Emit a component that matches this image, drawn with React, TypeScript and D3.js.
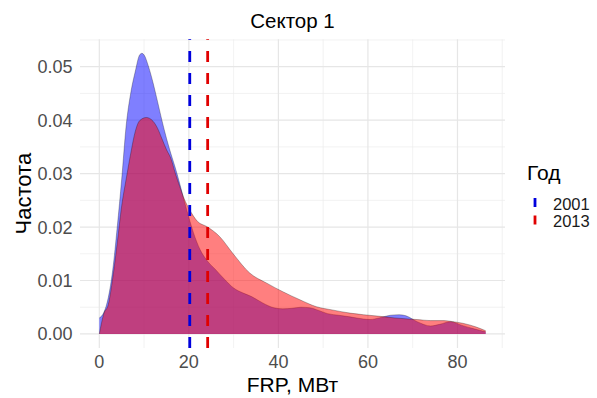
import * as d3 from 'd3'
import React from 'react'

// Kernel density estimates (FRP in MW -> density)
const frp2001 = [0, 1, 2, 3, 4, 5, 6, 7, 8, 9, 9.5, 10, 11, 12, 13, 14, 15, 16, 17, 18, 19, 20, 21, 22.5, 24, 26, 28, 30, 32, 34, 36.5, 39, 41, 43, 45, 47, 49, 51, 53.5, 56, 59, 60.5, 62.5, 65, 67, 68.5, 71, 74, 76, 78.5, 81, 83.5, 86.3]
const dens2001 = [0.003, 0.004, 0.0068, 0.012, 0.02, 0.029, 0.039, 0.045, 0.049, 0.0522, 0.0525, 0.0522, 0.05, 0.047, 0.0435, 0.0399, 0.0366, 0.0337, 0.031, 0.028, 0.0248, 0.0218, 0.019, 0.0158, 0.0138, 0.012, 0.0102, 0.0086, 0.0077, 0.007, 0.0058, 0.0049, 0.0047, 0.0048, 0.005, 0.0049, 0.0044, 0.0038, 0.0035, 0.0032, 0.0028, 0.0027, 0.003, 0.0035, 0.0036, 0.0034, 0.0023, 0.0015, 0.0018, 0.0023, 0.0016, 0.001, 0.0004]

const frp2013 = [0, 1, 2, 3, 4, 5, 6, 7, 8, 9, 10.5, 12, 13, 14, 15, 16, 17, 18, 19, 20, 22, 24, 26.9, 29.8, 33.6, 37.4, 41, 44.8, 48.5, 52, 56, 59, 62.7, 66, 69, 71, 74, 77, 79, 81.2, 84.2, 86.3]
const dens2013 = [0, 0.0038, 0.0055, 0.0105, 0.017, 0.024, 0.029, 0.0337, 0.0378, 0.0399, 0.0405, 0.0398, 0.0385, 0.0365, 0.0345, 0.0328, 0.03, 0.0275, 0.0252, 0.0235, 0.021, 0.0201, 0.0182, 0.0151, 0.0114, 0.0095, 0.0079, 0.0064, 0.0051, 0.0045, 0.0039, 0.0036, 0.0033, 0.003, 0.0028, 0.0027, 0.0025, 0.0025, 0.0023, 0.002, 0.0013, 0.0006]

const years = ['2001', '2013']
const meanFrp = [20.2, 24.2]
const yearColors = ['#0000ff', '#ff0000']
const lineColors = ['#0000dd', '#e00000']

const xTicks = [0, 20, 40, 60, 80]
const yTicks = [0, 0.01, 0.02, 0.03, 0.04, 0.05]

const W = 597
const H = 398
const panel = { left: 80, right: 505, top: 39.3, bottom: 348 }
const font = '"Liberation Sans", Arial, sans-serif'

export default function App() {
  const series = [
    frp2001.map((x, i) => ({ x, y: dens2001[i] })),
    frp2013.map((x, i) => ({ x, y: dens2013[i] }))
  ]

  // ggplot-style 5% expansion around the data range
  const allX = [...frp2001, ...frp2013]
  const allY = [...dens2001, ...dens2013, 0]
  const [x0, x1] = d3.extent(allX) as [number, number]
  const [y0, y1] = d3.extent(allY) as [number, number]
  const ex = (x1 - x0) * 0.05
  const ey = (y1 - y0) * 0.05

  const x = d3.scaleLinear().domain([x0 - ex, x1 + ex]).range([panel.left, panel.right])
  const y = d3.scaleLinear().domain([y0 - ey, y1 + ey]).range([panel.bottom, panel.top])

  const xMinor = d3.range(10, x1 + ex, 20)
  const yMinor = d3.range(0.005, y1 + ey, 0.01)

  const area = d3.area<{ x: number; y: number }>()
    .x(d => x(d.x))
    .y0(y(0))
    .y1(d => y(d.y))
    .curve(d3.curveMonotoneX)

  const line = d3.line<{ x: number; y: number }>()
    .x(d => x(d.x))
    .y(d => y(d.y))
    .curve(d3.curveMonotoneX)

  const midX = (panel.left + panel.right) / 2
  const midY = (panel.top + panel.bottom) / 2

  return (
    <svg width={W} height={H} style={{ position: 'absolute', left: 0, top: 0, background: '#fff' }} fontFamily={font}>
      {/* grid */}
      {xMinor.map(v => (
        <line key={'xm' + v} x1={x(v)} x2={x(v)} y1={panel.top} y2={panel.bottom} stroke="#ededed" strokeWidth={0.7} />
      ))}
      {yMinor.map(v => (
        <line key={'ym' + v} x1={panel.left} x2={panel.right} y1={y(v)} y2={y(v)} stroke="#ededed" strokeWidth={0.7} />
      ))}
      {xTicks.map(v => (
        <line key={'xg' + v} x1={x(v)} x2={x(v)} y1={panel.top} y2={panel.bottom} stroke="#e6e6e6" strokeWidth={1.2} />
      ))}
      {yTicks.map(v => (
        <line key={'yg' + v} x1={panel.left} x2={panel.right} y1={y(v)} y2={y(v)} stroke="#e6e6e6" strokeWidth={1.2} />
      ))}

      {/* densities */}
      {series.map((s, i) => (
        <g key={years[i]}>
          <path d={area(s) ?? ''} fill={yearColors[i]} fillOpacity={0.5} />
          <path d={line(s) ?? ''} fill="none" stroke="#000" strokeOpacity={0.4} strokeWidth={0.7} />
        </g>
      ))}

      {/* mean lines, drawn bottom to top like ggplot */}
      {meanFrp.map((m, i) => (
        <line key={'v' + i} x1={x(m)} x2={x(m)} y1={panel.bottom} y2={panel.top}
          stroke={lineColors[i]} strokeWidth={2.8} strokeDasharray="11,11" />
      ))}

      {/* axes text */}
      {xTicks.map(v => (
        <text key={'xt' + v} x={x(v)} y={368} textAnchor="middle" fontSize={18} fill="#4d4d4d">{v}</text>
      ))}
      {yTicks.map(v => (
        <text key={'yt' + v} x={72.5} y={y(v)} dy="0.36em" textAnchor="end" fontSize={18} fill="#4d4d4d">{v.toFixed(2)}</text>
      ))}

      <text x={midX} y={28} textAnchor="middle" fontSize={20.5} fill="#000">Сектор 1</text>
      <text x={midX} y={391.5} textAnchor="middle" fontSize={21} fill="#000">FRP, МВт</text>
      <text transform={`translate(31,${midY}) rotate(-90)`} textAnchor="middle" fontSize={22} fill="#000">Частота</text>

      {/* legend */}
      <text x={527} y={180} fontSize={21} fill="#000">Год</text>
      {years.map((yr, i) => (
        <g key={'lg' + yr}>
          <line x1={535} x2={535} y1={198 + i * 17.5} y2={207 + i * 17.5} stroke={lineColors[i]} strokeWidth={2.8} />
          <text x={553} y={209.5 + i * 17.5} fontSize={16.5} fill="#1a1a1a">{yr}</text>
        </g>
      ))}
    </svg>
  )
}
